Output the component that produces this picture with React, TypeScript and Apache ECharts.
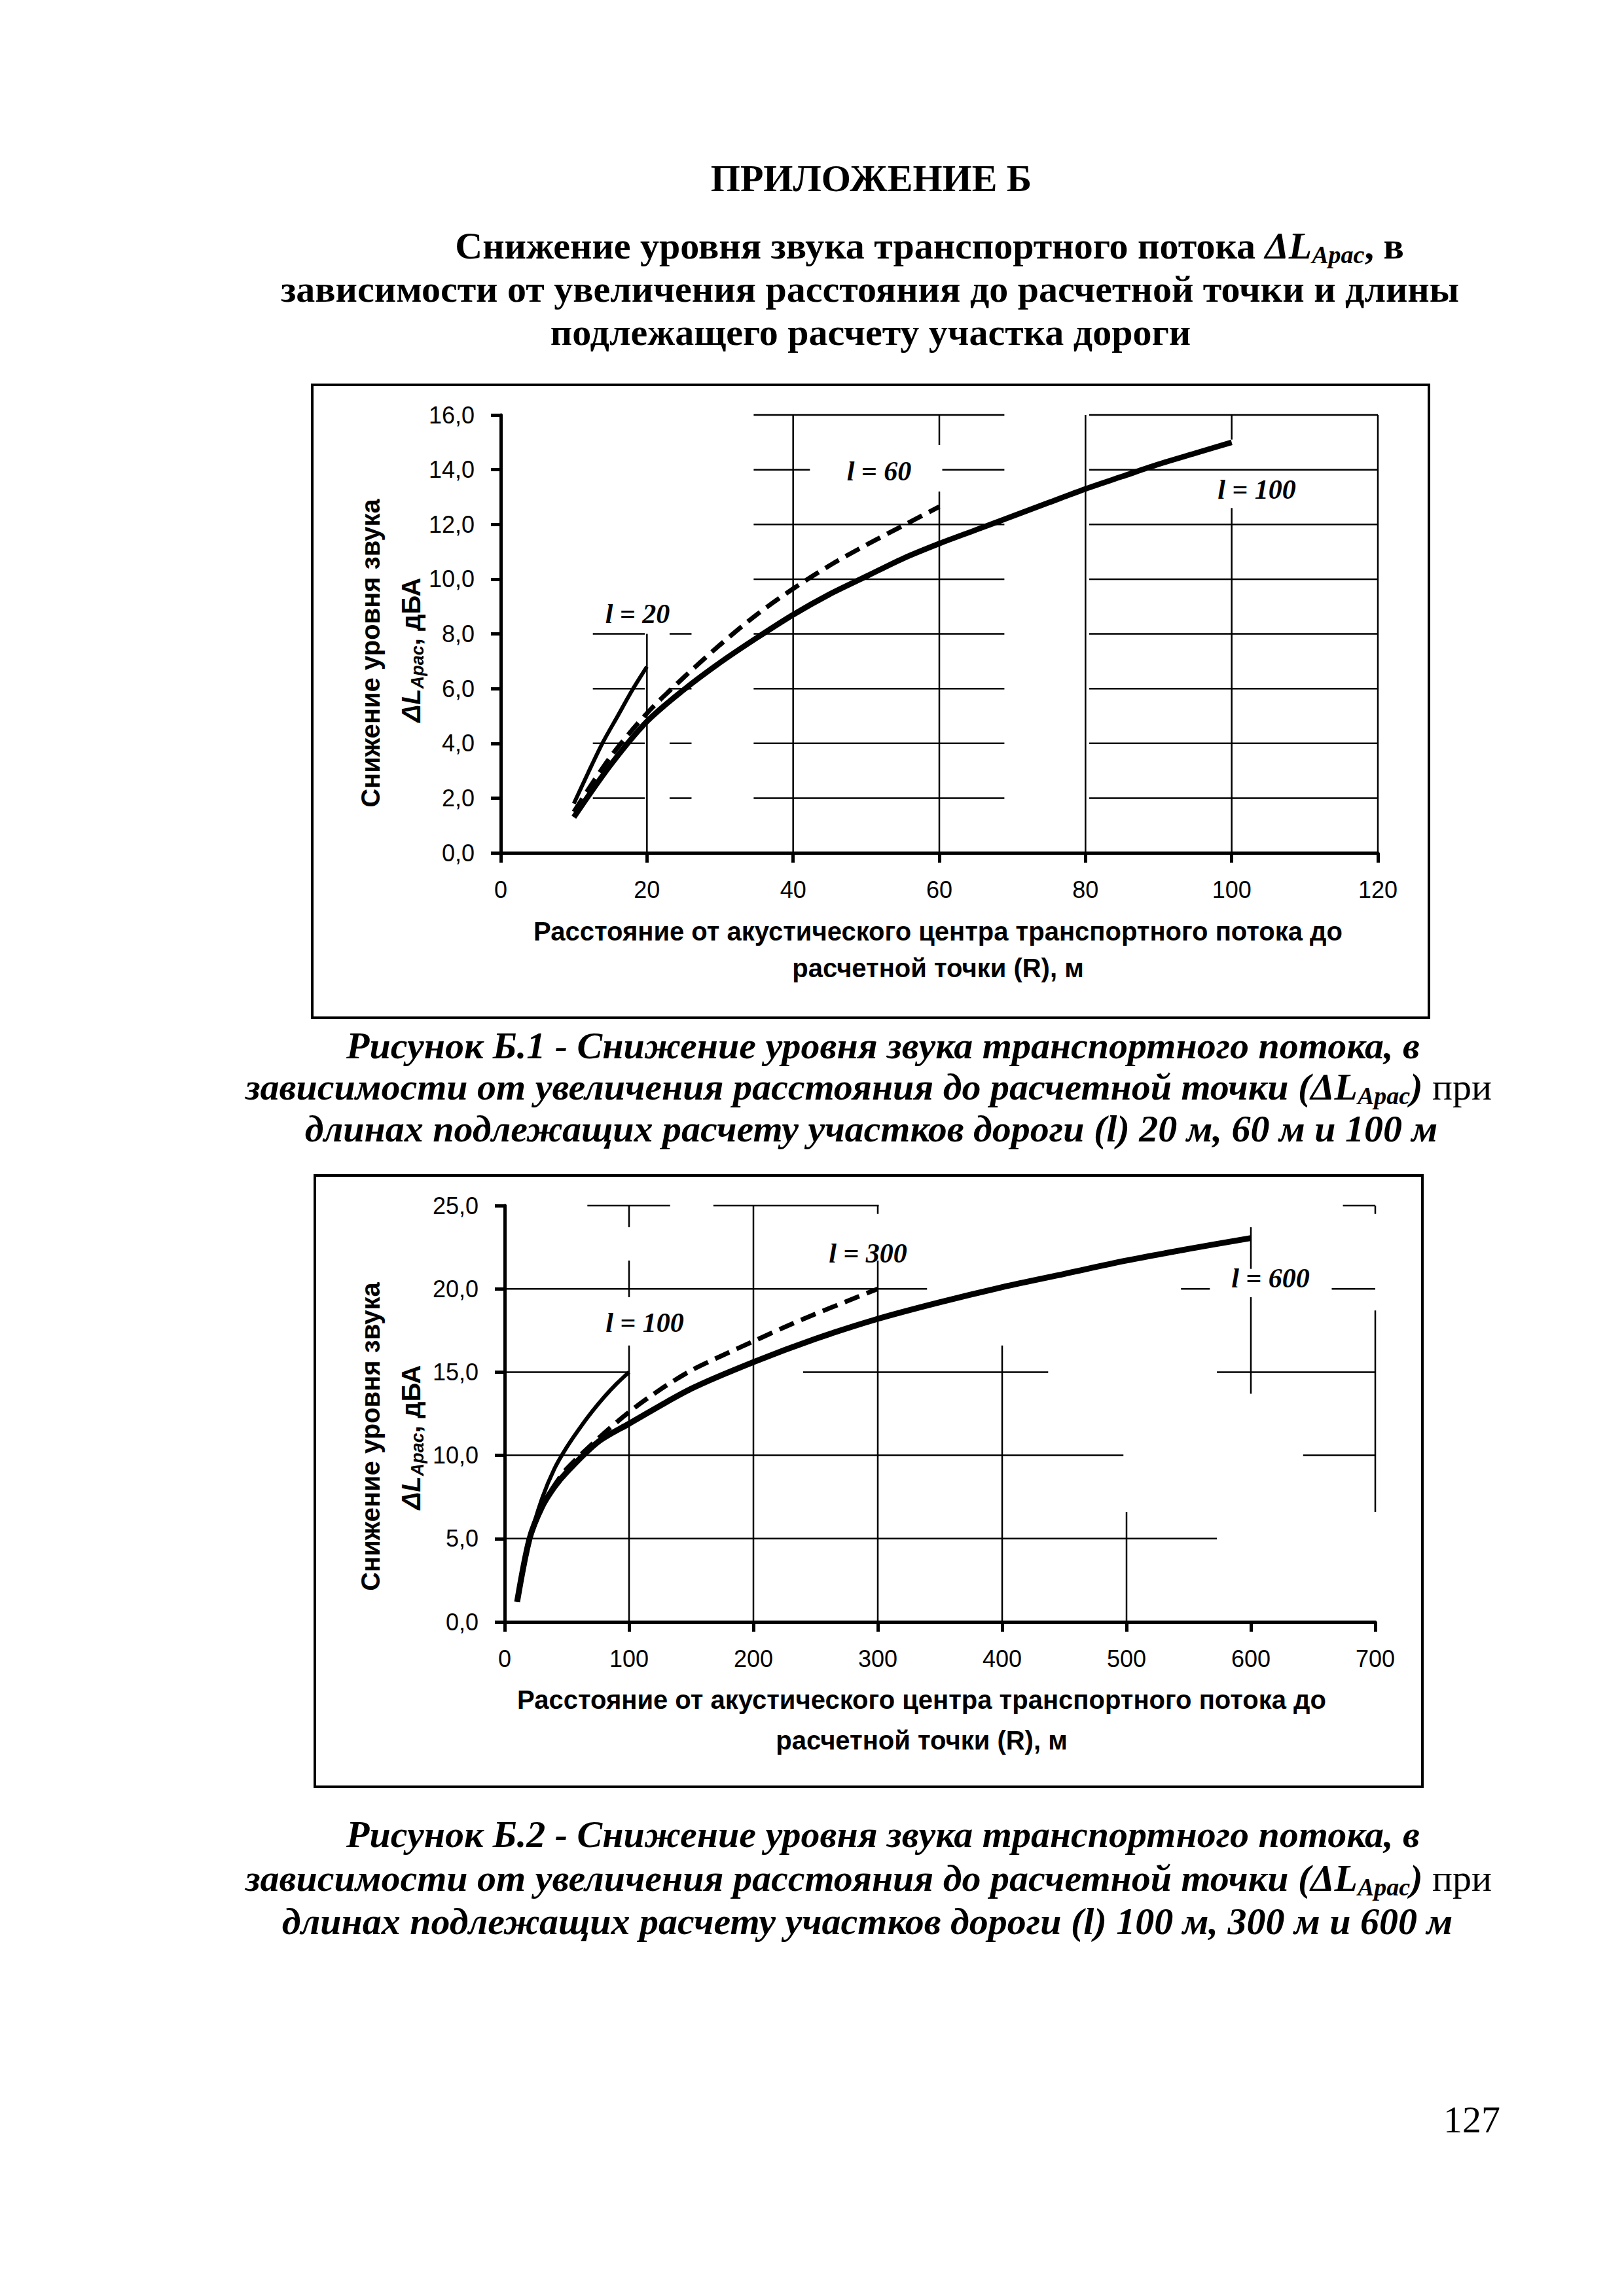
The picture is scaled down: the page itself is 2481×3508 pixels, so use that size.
import React, { useEffect, useRef } from 'react';
import * as echarts from 'echarts';

const PAGE_W = 2481;
const PAGE_H = 3508;

const SERIF = "'Liberation Serif', 'Times New Roman', serif";
const SANS = "'Liberation Sans', Arial, sans-serif";

// ---------- Figure B.1 data ----------
const fig1XRange = [0, 120, 20];
const fig1YRange = [0, 16, 2];
const fig1L20 = [[10, 1.8], [12, 2.95], [14, 4.05], [16, 5.0], [18, 5.95], [20, 6.8]];
const fig1L60 = [[10, 1.5], [15, 3.5], [20, 5.1], [25, 6.4], [30, 7.6], [35, 8.7], [40, 9.65], [45, 10.5], [50, 11.25], [55, 11.95], [60, 12.65]];
const fig1L100 = [[10, 1.3], [15, 3.2], [20, 4.8], [25, 5.95], [30, 6.95], [35, 7.85], [40, 8.7], [45, 9.45], [50, 10.1], [55, 10.75], [60, 11.3], [65, 11.8], [70, 12.3], [75, 12.8], [80, 13.3], [85, 13.75], [90, 14.2], [95, 14.6], [100, 15.0]];
// horizontal grid pieces: [y, xFrom, xTo]
const fig1HGrid = [
  [2, 12.6, 19.7], [2, 23.1, 26.1], [2, 34.6, 68.9], [2, 80.5, 120],
  [4, 12.6, 19.7], [4, 23.1, 26.1], [4, 34.6, 68.9], [4, 80.5, 120],
  [6, 12.6, 19.7], [6, 23.1, 26.1], [6, 34.6, 68.9], [6, 80.5, 120],
  [8, 12.6, 19.7], [8, 23.1, 26.1], [8, 34.6, 68.9], [8, 80.5, 120],
  [10, 34.6, 68.9], [10, 80.5, 120],
  [12, 34.6, 68.9], [12, 80.5, 120],
  [14, 34.6, 42.3], [14, 60.4, 68.9], [14, 80.5, 120],
  [16, 34.6, 68.9], [16, 80.5, 120],
];
// vertical grid pieces: [x, yFrom, yTo]
const fig1VGrid = [[20, 0, 8], [40, 0, 16], [60, 0, 13.2], [60, 14.9, 16], [80, 0, 16], [100, 0, 12.6], [100, 15.1, 16], [120, 0, 16]];

// ---------- Figure B.2 data ----------
const fig2XRange = [0, 700, 100];
const fig2YRange = [0, 25, 5];
const fig2L100 = [[10, 1.2], [20, 4.9], [30, 7.4], [40, 9.2], [50, 10.5], [60, 11.6], [70, 12.6], [80, 13.5], [90, 14.3], [100, 15.0]];
const fig2L300 = [[10, 1.2], [20, 4.9], [30, 6.9], [40, 8.2], [50, 9.2], [75, 11.0], [100, 12.6], [125, 13.95], [150, 15.1], [175, 16.0], [200, 16.85], [225, 17.7], [250, 18.5], [275, 19.25], [300, 20.0]];
const fig2L600 = [[10, 1.2], [20, 5.0], [30, 6.9], [40, 8.1], [50, 9.0], [75, 10.8], [100, 11.9], [150, 14.0], [200, 15.6], [250, 17.0], [300, 18.2], [350, 19.2], [400, 20.1], [450, 20.9], [500, 21.7], [550, 22.4], [600, 23.05]];
const fig2HGrid = [
  [5, 0, 572.7],
  [10, 0, 497.5], [10, 642, 700],
  [15, 0, 100], [15, 240, 437], [15, 572.7, 700],
  [20, 0, 339.6], [20, 543.8, 567], [20, 665, 700],
  [25, 66.5, 133], [25, 167.8, 300.8], [25, 674, 700],
];
const fig2VGrid = [[100, 0, 16.6], [100, 19.5, 21.7], [100, 23.7, 25], [200, 0, 25], [300, 0, 21.7], [300, 24.5, 25], [400, 0, 16.6], [500, 0, 6.6], [600, 13.7, 19.5], [600, 21.2, 23.7], [700, 6.6, 18.7], [700, 24.5, 25]];

// ---------- texts ----------
const appendixTitle = 'ПРИЛОЖЕНИЕ Б';
const headingLine1 = 'Снижение уровня звука транспортного потока ';
const headingLine2 = 'зависимости от увеличения расстояния до расчетной точки и длины';
const headingLine3 = 'подлежащего расчету участка дороги';
const yTitle1 = 'Снижение уровня звука';
const xTitle1 = 'Расстояние от акустического центра транспортного потока до';
const xTitle2 = 'расчетной точки (R), м';
const cap1Line1 = 'Рисунок Б.1 - Снижение уровня звука транспортного потока, в';
const cap1Line3 = 'длинах подлежащих расчету участков дороги (l) 20 м, 60 м и 100 м';
const cap2Line1 = 'Рисунок Б.2 - Снижение уровня звука транспортного потока, в';
const cap2Line3 = 'длинах подлежащих расчету участков дороги (l) 100 м, 300 м и 600 м';
const capLine2Start = 'зависимости от увеличения расстояния до расчетной точки (ΔL';
const pageNumber = '127';

function gridSeries(idx: number, data: number[][], horizontal: boolean) {
  return {
    type: 'custom',
    xAxisIndex: idx,
    yAxisIndex: idx,
    silent: true,
    z: 1,
    data,
    renderItem: (_p: any, api: any) => {
      const a = api.value(0), b = api.value(1), c = api.value(2);
      const p1 = horizontal ? api.coord([b, a]) : api.coord([a, b]);
      const p2 = horizontal ? api.coord([c, a]) : api.coord([a, c]);
      return {
        type: 'line',
        shape: { x1: p1[0], y1: p1[1], x2: p2[0], y2: p2[1] },
        style: { stroke: '#000', lineWidth: 2.5 },
      };
    },
  };
}

function curve(idx: number, data: number[][], width: number, dashed: boolean) {
  return {
    type: 'line',
    xAxisIndex: idx,
    yAxisIndex: idx,
    data,
    showSymbol: false,
    smooth: 0.3,
    z: 3,
    lineStyle: { color: '#000', width, type: dashed ? [24, 12] : 'solid', cap: 'butt' },
  };
}

const axisBase = {
  axisLine: { show: true, onZero: false, lineStyle: { color: '#000', width: 5 } },
  axisTick: { show: true, length: 15, lineStyle: { color: '#000', width: 5 } },
  splitLine: { show: false },
};

function xAxis(idx: number, r: number[]) {
  return {
    type: 'value', gridIndex: idx, min: r[0], max: r[1], interval: r[2],
    ...axisBase,
    axisLabel: { color: '#000', fontFamily: SANS, fontSize: 36, margin: 38 },
  };
}
function yAxis(idx: number, r: number[]) {
  return {
    type: 'value', gridIndex: idx, min: r[0], max: r[1], interval: r[2],
    ...axisBase,
    axisLabel: {
      color: '#000', fontFamily: SANS, fontSize: 36, margin: 40,
      formatter: (v: number) => v.toFixed(1).replace('.', ','),
    },
  };
}

function txt(text: string, x: number, y: number, font: any, align = 'center', extra: any = {}) {
  return {
    type: 'text',
    x, y,
    ...extra,
    style: {
      text, fill: '#000',
      fontFamily: font.family, fontSize: font.size, fontWeight: font.weight || 'normal', fontStyle: font.style || 'normal',
      align, verticalAlign: 'middle', textAlign: align, textVerticalAlign: 'middle',
      ...(font.rich ? { rich: font.rich } : {}),
    },
  };
}

const serifBold = { family: SERIF, size: 58, weight: 'bold' };
const serifBI = { family: SERIF, size: 58, weight: 'bold', style: 'italic' };
const sansBold = { family: SANS, size: 40, weight: 'bold' };
const labelFont = { family: SERIF, size: 42, weight: 'bold', style: 'italic' };

const headingRich = {
  b: { fontFamily: SERIF, fontSize: 58, fontWeight: 'bold', fill: '#000', lineHeight: 66, verticalAlign: 'middle' },
  bi: { fontFamily: SERIF, fontSize: 58, fontWeight: 'bold', fontStyle: 'italic', fill: '#000', lineHeight: 66, verticalAlign: 'middle' },
  sub: { fontFamily: SERIF, fontSize: 38, fontWeight: 'bold', fontStyle: 'italic', fill: '#000', lineHeight: 30, verticalAlign: 'bottom' },
  r: { fontFamily: SERIF, fontSize: 58, fontWeight: 'normal', fill: '#000', lineHeight: 66, verticalAlign: 'middle' },
};
const yRich = {
  bi: { fontFamily: SANS, fontSize: 40, fontWeight: 'bold', fontStyle: 'italic', fill: '#000', lineHeight: 46, verticalAlign: 'middle' },
  sub: { fontFamily: SANS, fontSize: 27, fontWeight: 'bold', fontStyle: 'italic', fill: '#000', lineHeight: 20, verticalAlign: 'bottom' },
  b: { fontFamily: SANS, fontSize: 40, fontWeight: 'bold', fill: '#000', lineHeight: 46, verticalAlign: 'middle' },
};

function yTitle(cx: number, cy1: number, cy2: number) {
  return [
    txt(yTitle1, cx, cy1, sansBold, 'center', { rotation: Math.PI / 2 }),
    txt('{bi|ΔL}{sub|Арас}{b|, дБА}', cx + 62, cy2, { ...sansBold, rich: yRich }, 'center', { rotation: Math.PI / 2 }),
  ];
}

export default function App() {
  const ref = useRef<HTMLDivElement>(null);
  useEffect(() => {
    if (!ref.current) return;
    const chart = echarts.init(ref.current, undefined, { renderer: 'svg', width: PAGE_W, height: PAGE_H });
    const option: any = {
      animation: false,
      backgroundColor: '#fff',
      grid: [
        { left: 765, top: 634, width: 1340, height: 669 },
        { left: 771, top: 1842, width: 1330, height: 636 },
      ],
      xAxis: [xAxis(0, fig1XRange), xAxis(1, fig2XRange)],
      yAxis: [yAxis(0, fig1YRange), yAxis(1, fig2YRange)],
      series: [
        gridSeries(0, fig1HGrid, true),
        gridSeries(0, fig1VGrid, false),
        gridSeries(1, fig2HGrid, true),
        gridSeries(1, fig2VGrid, false),
        curve(0, fig1L20, 6, false),
        curve(0, fig1L60, 7, true),
        curve(0, fig1L100, 8.5, false),
        curve(1, fig2L100, 6, false),
        curve(1, fig2L300, 7, true),
        curve(1, fig2L600, 9, false),
      ],
      graphic: [
        { type: 'rect', shape: { x: 477, y: 588, width: 1706, height: 967 }, style: { fill: 'none', stroke: '#000', lineWidth: 4 } },
        { type: 'rect', shape: { x: 481, y: 1796, width: 1692, height: 934 }, style: { fill: 'none', stroke: '#000', lineWidth: 4 } },
        txt(appendixTitle, 1331, 272, serifBold),
        txt('{b|' + headingLine1 + '}{bi|ΔL}{sub|Арас}{b|, в}', 1420, 375, { ...serifBold, rich: headingRich }),
        txt(headingLine2, 1329, 441, serifBold),
        txt(headingLine3, 1330, 507, serifBold),
        // Figure 1 texts
        ...yTitle(566, 998, 993),
        txt(xTitle1, 1433, 1423, sansBold),
        txt(xTitle2, 1433, 1479, sansBold),
        txt('l = 20', 974, 938, labelFont),
        txt('l = 60', 1343, 720, labelFont),
        txt('l = 100', 1920, 748, labelFont),
        // Caption 1
        txt(cap1Line1, 1349, 1597, serifBI),
        txt('{bi|' + capLine2Start + '}{sub|Арас}{bi|)}{r| при}', 1327, 1660, { ...serifBI, rich: headingRich }),
        txt(cap1Line3, 1331, 1724, serifBI),
        // Figure 2 texts
        ...yTitle(566, 2195, 2196),
        txt(xTitle1, 1408, 2597, sansBold),
        txt(xTitle2, 1408, 2659, sansBold),
        txt('l = 100', 985, 2021, labelFont),
        txt('l = 300', 1326, 1915, labelFont),
        txt('l = 600', 1941, 1953, labelFont),
        // Caption 2
        txt(cap2Line1, 1349, 2802, serifBI),
        txt('{bi|' + capLine2Start + '}{sub|Арас}{bi|)}{r| при}', 1327, 2869, { ...serifBI, rich: headingRich }),
        txt(cap2Line3, 1325, 2935, serifBI),
        // page number
        txt(pageNumber, 2292, 3238, { family: SERIF, size: 58 }, 'right'),
      ],
    };
    chart.setOption(option);
    return () => chart.dispose();
  }, []);
  return (
    <div
      ref={ref}
      style={{ position: 'absolute', left: 0, top: 0, width: PAGE_W, height: PAGE_H, background: '#fff' }}
    />
  );
}
